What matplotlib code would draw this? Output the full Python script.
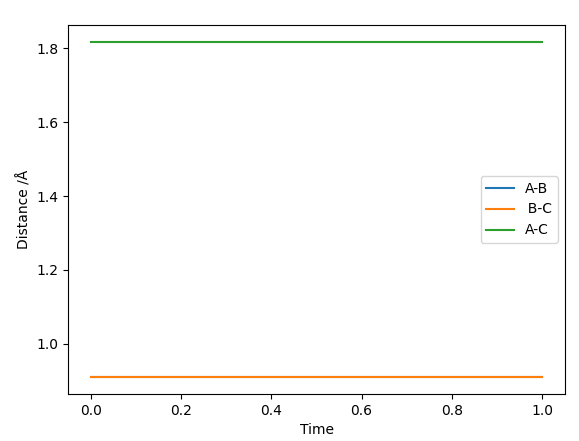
import matplotlib
matplotlib.use("Agg")
import matplotlib.pyplot as plt

# distances over time (flat lines)
time = [0.0, 1.0]
dist_ab = [0.909, 0.909]
dist_bc = [0.909, 0.909]
dist_ac = [1.818, 1.818]

fig = plt.figure(figsize=(5.79, 4.41), dpi=100)
fig.subplots_adjust(left=0.1183, right=0.975, bottom=0.1066, top=0.9433)
ax = fig.add_subplot(111)

ax.plot(time, dist_ab, label="A-B")
ax.plot(time, dist_bc, label="\u2009B-C")
ax.plot(time, dist_ac, label="A-C")

ax.set_xlabel("Time")
ax.set_ylabel("Distance /Å")
ax.legend()

fig.savefig("out.png", dpi=100)
